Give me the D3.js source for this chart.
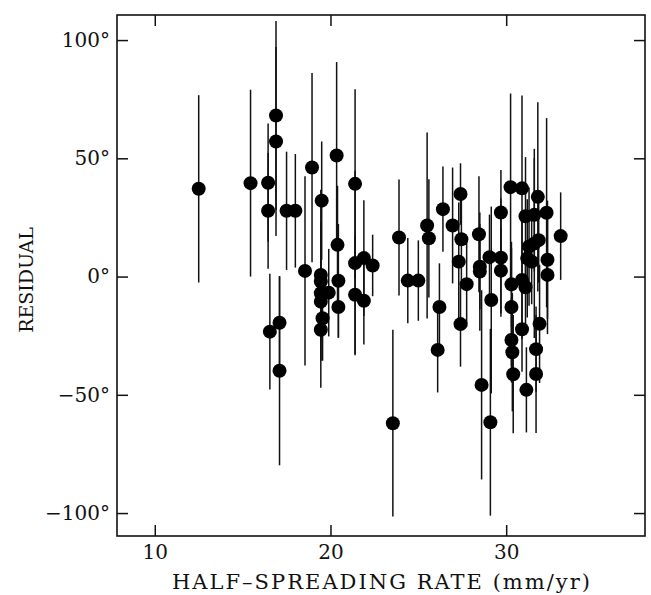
<!DOCTYPE html>
<html>
<head>
<meta charset="utf-8">
<script src="https://cdn.jsdelivr.net/npm/d3@7"></script>
<style>
  body { margin: 0; background: #fff; }
  text { font-family: "DejaVu Serif", "Liberation Serif", serif; fill: #111; }
</style>
</head>
<body>
<svg id="grafico" width="651" height="595"></svg>
<script>
// half-spreading rate (mm/yr), residual (deg), error half-length (deg)
var rate = [12.5, 15.45, 16.45, 16.45, 16.9, 16.9, 17.5, 18.0, 16.55, 17.1,
    17.1, 18.55, 18.95, 19.5, 19.45, 19.45, 19.45, 19.45, 19.55, 19.45,
    19.9, 20.35, 20.4, 20.45, 20.45, 21.4, 21.4, 21.4, 21.9, 21.9,
    22.4, 23.55, 23.9, 24.4, 25.0, 25.5, 25.6, 26.4, 26.2, 26.1,
    26.95, 27.4, 27.45, 27.3, 27.75, 27.4, 28.45, 28.5, 28.5, 28.6,
    29.1, 29.15, 29.05, 29.7, 29.7, 29.7, 30.25, 30.9, 31.8, 31.1,
    31.6, 32.3, 33.1, 31.85, 31.3, 31.6, 31.2, 31.45, 32.35, 32.35,
    30.3, 30.9, 31.1, 30.3, 31.9, 30.9, 30.3, 30.35, 31.7, 30.4,
    31.7, 31.15];
var residual = [37.1, 39.5, 39.7, 27.8, 68.1, 57.1, 27.8, 27.8, -23.3, -19.5,
    -39.8, 2.4, 46.1, 32.1, 0.7, -2.1, -7.0, -10.6, -17.6, -22.5,
    -6.8, 51.2, 13.4, -1.8, -12.9, 39.2, 5.7, -7.7, 7.8, -10.2,
    4.7, -62, 16.5, -1.7, -1.7, 21.6, 16.2, 28.5, -12.9, -31,
    21.6, 34.9, 15.8, 6.3, -3.2, -20.1, 17.9, 4.2, 2.1, -45.8,
    -61.6, -9.9, 8.2, 27.1, 8.0, 2.5, 37.8, 37.3, 33.7, 25.5,
    26.1, 27.0, 17.1, 15.4, 12.7, 14.0, 7.7, 6.3, 7.1, 0.7,
    -3.3, -1.4, -4.5, -12.9, -20.0, -22.3, -26.8, -32, -30.7, -41.3,
    -41.2, -47.9];
var errore = [39.6, 39.5, 25, 24.5, 40, 40, 25, 24, 24.5, 19.5,
    40, 40, 40, 25, 36, 25, 18, 25, 18, 24.5,
    18.5, 39.5, 25, 24, 13, 40, 39, 25, 24.5, 18.5,
    13, 39.5, 24.5, 18, 17, 39.3, 25, 18, 18.5, 18,
    24.5, 13, 18, 25, 18, 18, 24.5, 18, 25, 40,
    39.5, 39.5, 18, 18, 25, 18, 39.6, 39.3, 40, 25,
    24, 40, 18.5, 18, 25, 40, 25, 18, 25, 25,
    18, 25, 18, 25, 25, 18, 18, 25, 18, 25,
    25, 18];

var xTicks = [10, 20, 30];
var yTicks = [-100, -50, 0, 50, 100];

// margins (not "top": window.top is read-only)
var mLeft = 117, mRight = 645, mTop = 15, mBottom = 536;
var tickLen = 11;

var svg = d3.select("#grafico");

var x = d3.scaleLinear().domain([7.85, 37.9]).range([mLeft, mRight]);
var y = d3.scaleLinear().domain([-109.7, 110.6]).range([mBottom, mTop]);

var dati = rate.map(function(d, i) {
    return {rate: d, res: residual[i], err: errore[i]};
});

// error bars
svg.append("g").selectAll("line")
    .data(dati)
    .enter().append("line")
    .attr("x1", function(d) { return x(d.rate); })
    .attr("x2", function(d) { return x(d.rate); })
    .attr("y1", function(d) { return y(d.res + d.err); })
    .attr("y2", function(d) { return y(d.res - d.err); })
    .attr("stroke", "#111")
    .attr("stroke-width", 1.5);

// points
svg.append("g").selectAll("circle")
    .data(dati)
    .enter().append("circle")
    .attr("cx", function(d) { return x(d.rate); })
    .attr("cy", function(d) { return y(d.res); })
    .attr("r", 7)
    .attr("fill", "#000");

// frame
svg.append("rect")
    .attr("x", mLeft)
    .attr("y", mTop)
    .attr("width", mRight - mLeft)
    .attr("height", mBottom - mTop)
    .attr("fill", "none")
    .attr("stroke", "#111")
    .attr("stroke-width", 1.6);

// axes, ticks pointing inward
var fmtY = function(d) { return (d < 0 ? "\u2212" + (-d) : d) + "\u00b0"; };

svg.append("g")
    .attr("transform", "translate(0," + mBottom + ")")
    .call(d3.axisBottom(x).tickValues(xTicks).tickSizeInner(-tickLen).tickSizeOuter(0).tickPadding(9));
svg.append("g")
    .attr("transform", "translate(0," + mTop + ")")
    .call(d3.axisTop(x).tickValues(xTicks).tickSizeInner(-tickLen).tickSizeOuter(0).tickFormat(""));
svg.append("g")
    .attr("transform", "translate(" + mLeft + ",0)")
    .call(d3.axisLeft(y).tickValues(yTicks).tickSizeInner(-tickLen).tickSizeOuter(0).tickPadding(7).tickFormat(fmtY));
svg.append("g")
    .attr("transform", "translate(" + mRight + ",0)")
    .call(d3.axisRight(y).tickValues(yTicks).tickSizeInner(-tickLen).tickSizeOuter(0).tickFormat(""));

svg.selectAll(".domain").remove();
svg.selectAll(".tick line").attr("stroke", "#111").attr("stroke-width", 1.5);
svg.selectAll(".tick text")
    .style("font-family", "DejaVu Serif")
    .style("font-size", "20px")
    .attr("fill", "#111");

// axis titles
svg.append("text")
    .attr("x", (mLeft + mRight) / 2)
    .attr("y", 589)
    .attr("text-anchor", "middle")
    .attr("textLength", 418)
    .attr("lengthAdjust", "spacing")
    .style("font-size", "21px")
    .text("HALF\u2013SPREADING RATE (mm/yr)");

svg.append("g")
    .attr("transform", "translate(33,280) rotate(-90)")
    .append("text")
    .attr("text-anchor", "middle")
    .style("font-size", "19px")
    .text("RESIDUAL");
</script>
</body>
</html>
